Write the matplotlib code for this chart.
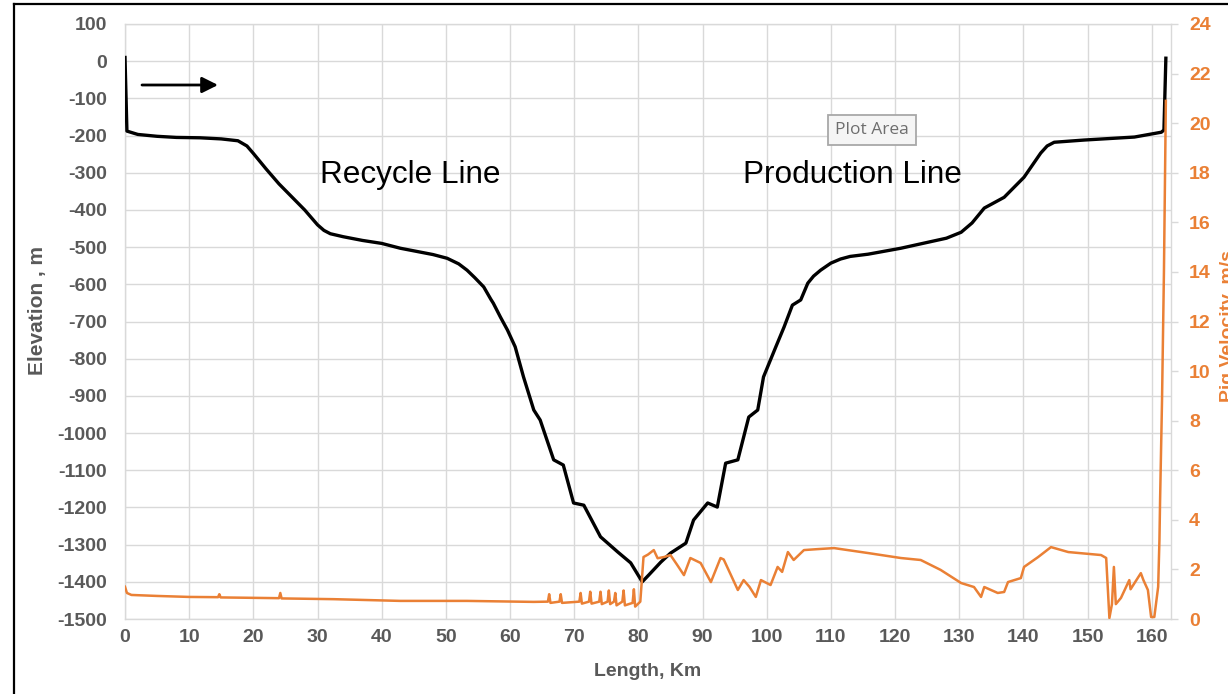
import matplotlib
matplotlib.use("Agg")
import matplotlib.pyplot as plt
from matplotlib.lines import Line2D

plt.rcParams["axes.unicode_minus"] = False

# ---------------- data ----------------
elev_km = [0, 0.3, 2, 5, 8, 11.7, 15, 17.6, 19, 20, 22, 24, 26, 28, 30, 31, 32, 34,
           37, 40, 42.9, 45, 48, 50.2, 52, 53.3, 54.5, 55.9, 57.0, 57.4, 58.5,
           59.6, 60.8, 62.1, 63.7, 64.7, 66.8, 68.3, 69.9, 71.5, 74.1, 76.8, 78.8,
           80.6, 81.6, 83.5, 85.0, 87.4, 88.6, 90.8, 92.3, 93.6, 95.5, 97.2, 98.6,
           99.5, 101.4, 102.7, 104.0, 105.3, 106.4, 107.3, 108.4, 110.0, 111.5,
           113.0, 115.8, 120.9, 125.1, 128.0, 130.3, 132.0, 133.9, 137.0, 140.1,
           142.7, 143.7, 144.8, 149.5, 157.3, 161.5, 161.9, 162.2]
elev_m = [10, -188, -197, -202, -205, -206, -209, -214, -228, -248, -290, -330,
          -365, -400, -440, -455, -464, -472, -482, -490, -503, -510, -520, -530,
          -545, -562, -582, -607, -640, -651, -688, -723, -768, -849, -938, -965,
          -1072, -1086, -1188, -1194, -1279, -1320, -1349, -1400, -1382, -1347,
          -1323, -1296, -1234, -1188, -1199, -1081, -1072, -957, -938, -849, -769,
          -715, -656, -642, -597, -578, -562, -543, -532, -525, -519, -503, -487,
          -476, -460, -435, -395, -366, -312, -247, -228, -218, -212, -204, -191,
          -185, 8]

vel_km = [0, 0.3, 1, 5, 10, 14.5, 14.7, 14.9, 21, 24.0, 24.2, 24.4, 32.5, 42.9,
          53.3, 63.7, 65.9, 66.1, 66.3, 67.7, 67.9, 68.1, 70.8, 71.0, 71.2,
          72.3, 72.5, 72.7, 73.9, 74.1, 74.3, 75.2, 75.4, 75.6, 76.2, 76.4, 76.6,
          77.5, 77.7, 77.9, 79.1, 79.3, 79.5, 79.9, 80.3, 80.8, 81.5, 82.4, 83.0,
          84.0, 85.0, 86.0, 87.1, 88.1, 89.7, 91.3, 92.8, 93.3, 95.5, 96.4, 97.3,
          98.3, 99.1, 100.6, 101.7, 102.4, 103.3, 104.2, 105.8, 108.0, 110.5,
          115.8, 120.9, 124.0, 127.1, 130.3, 132.3, 133.4, 133.9, 136.0, 137.0,
          137.6, 139.6, 140.1, 142.3, 144.3, 147.0, 152.1, 152.9, 153.4, 153.8,
          154.1, 154.4, 155.2, 156.5, 156.7, 158.3, 158.7, 159.4, 159.9, 160.4,
          161.0, 161.2, 161.3, 161.6, 161.9, 162.2]
vel_ms = [1.3, 1.05, 0.97, 0.93, 0.89, 0.88, 1.0, 0.87, 0.85, 0.84, 1.05, 0.83,
          0.8, 0.73, 0.73, 0.69, 0.7, 1.0, 0.65, 0.7, 1.0, 0.65, 0.7, 1.05, 0.62,
          0.7, 1.1, 0.62, 0.7, 1.1, 0.6, 0.7, 1.15, 0.6, 0.7, 1.05, 0.55, 0.7,
          1.15, 0.55, 0.65, 1.2, 0.5, 0.6, 0.7, 2.5, 2.6, 2.78, 2.45, 2.5, 2.58,
          2.2, 1.77, 2.46, 2.26, 1.49, 2.46, 2.4, 1.17, 1.57, 1.3, 0.89, 1.57,
          1.37, 2.1, 1.9, 2.7, 2.38, 2.78, 2.82, 2.86, 2.66, 2.46, 2.38, 1.98,
          1.45, 1.29, 0.89, 1.29, 1.05, 1.09, 1.49, 1.65, 2.1, 2.5, 2.9, 2.7, 2.58,
          2.46, 0.04, 0.6, 2.1, 0.6, 0.85, 1.57, 1.2, 1.85, 1.57, 1.17, 0.08, 0.08,
          1.3, 3.2, 4.8, 8.8, 14.0, 20.9]

x_ticks = list(range(0, 161, 10))
y_ticks = list(range(-1500, 101, 100))
y2_ticks = list(range(0, 25, 2))

# ---------------- style ----------------
FONT = "Liberation Sans"
GRAY = "#595959"
ORANGE = "#EA8035"
GRID = "#D9D9D9"

fig = plt.figure(figsize=(12.28, 6.94), dpi=100)
fig.patch.set_facecolor("white")

ax = fig.add_axes([125 / 1228, 1 - 619 / 694, (1171 - 125) / 1228, (619 - 24) / 694])
ax.plot(elev_km, elev_m, color="black", lw=2.4, solid_joinstyle="round", zorder=3)
ax.set_xlim(0, 163)
ax.set_ylim(-1500, 100)
ax.set_xticks(x_ticks)
ax.set_yticks(y_ticks)
ax.grid(True, color=GRID, lw=1.0)
ax.set_axisbelow(True)
for s in ax.spines.values():
    s.set_color(GRID)
    s.set_linewidth(1.0)
ax.tick_params(axis="both", length=0, labelcolor=GRAY, labelsize=14)
ax.tick_params(axis="y", pad=13)
ax.tick_params(axis="x", pad=7)
for lbl in ax.get_xticklabels() + ax.get_yticklabels():
    lbl.set_fontfamily(FONT)
    lbl.set_fontweight("bold")

ax2 = ax.twinx()
ax2.plot(vel_km, vel_ms, color=ORANGE, lw=1.8, zorder=2)
ax2.set_ylim(0, 24)
ax2.set_yticks(y2_ticks)
for s in ax2.spines.values():
    s.set_visible(False)
ax2.tick_params(axis="y", length=5, width=1, color=GRID, labelcolor=ORANGE,
                labelsize=14, pad=8)
for lbl in ax2.get_yticklabels():
    lbl.set_fontfamily(FONT)
    lbl.set_fontweight("bold")

# axis titles
fig.text(38 / 1228, 0.553, "Elevation , m", rotation=90, ha="center", va="center",
         fontsize=15, fontweight="bold", color=GRAY, family=FONT)
fig.text(648 / 1228, 1 - 672 / 694, "Length, Km", ha="center", va="center",
         fontsize=14, fontweight="bold", color=GRAY, family=FONT)
fig.text(1229 / 1228, 1 - 326 / 694, "Pig Velocity, m/s", rotation=90, ha="center",
         va="center", fontsize=14, fontweight="bold", color=ORANGE, family=FONT)

# annotations
fig.text(410 / 1228, 1 - 175 / 694, "Recycle Line", ha="center", va="center",
         fontsize=22.7, color="black", family=FONT)
fig.text(852 / 1228, 1 - 175 / 694, "Production Line", ha="center", va="center",
         fontsize=22.7, color="black", family=FONT)
ax.annotate("", xy=(218 / 1228, 1 - 85 / 694), xytext=(142 / 1228, 1 - 85 / 694),
            xycoords="figure fraction", textcoords="figure fraction",
            arrowprops=dict(arrowstyle="-|>", color="black", lw=2,
                            mutation_scale=24, shrinkA=0, shrinkB=0))

# "Plot Area" tooltip
fig.text(872 / 1228, 1 - 130 / 694, "Plot Area", ha="center", va="center",
         fontsize=12.5, color="#6E6E6E", family="Open Sans",
         bbox=dict(boxstyle="square,pad=0.4", facecolor="#F5F5F5",
                   edgecolor="#A8A8A8", lw=1.3))

# screenshot frame
fig.add_artist(Line2D([14 / 1228, 14 / 1228], [0, 1 - 4 / 694],
                      transform=fig.transFigure, color="black", lw=1.6))
fig.add_artist(Line2D([14 / 1228, 1], [1 - 4 / 694, 1 - 4 / 694],
                      transform=fig.transFigure, color="black", lw=1.6))

fig.savefig("out.png", dpi=100)
